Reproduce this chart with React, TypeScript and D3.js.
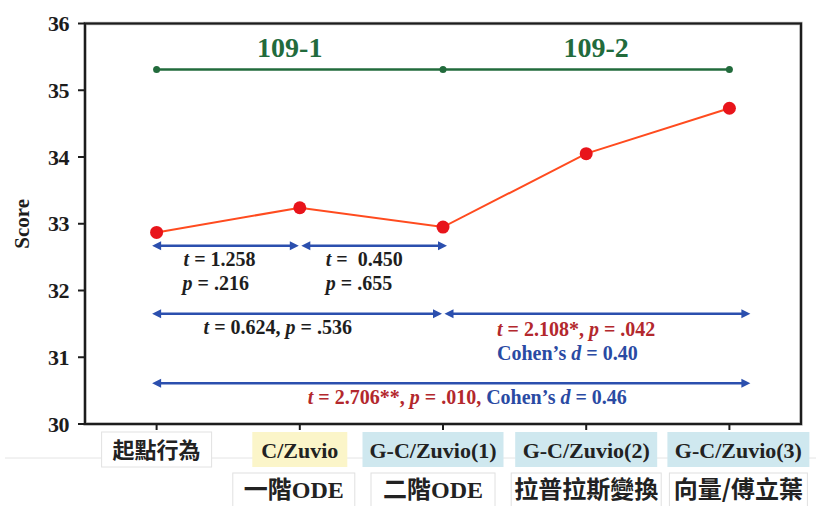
import React from "react";
import * as d3 from "d3";

const categories = ["起點行為", "C/Zuvio", "G-C/Zuvio(1)", "G-C/Zuvio(2)", "G-C/Zuvio(3)"];
const scores = [32.87, 33.24, 32.95, 34.05, 34.73];
const topics = ["", "一階ODE", "二階ODE", "拉普拉斯變換", "向量/傅立葉"];
const yTicks = [30, 31, 32, 33, 34, 35, 36];
const semesters = ["109-1", "109-2"];
const semesterBreaks = [0, 2, 4];
const semesterLevel = 35.31;

// comparison arrows: from index, to index, score level
const arrowFrom = [0, 1, 0, 2, 0];
const arrowTo = [1, 2, 2, 4, 4];
const arrowLevel = [32.67, 32.67, 31.65, 31.65, 30.61];

const W = 816, H = 506;
const M = { left: 85, right: 801, top: 23.5, bottom: 424 };

const serif = "'Liberation Serif', 'Times New Roman', serif";
const cjk = "'Noto Sans CJK TC', 'Noto Sans CJK SC', sans-serif";
const BLUE = "#2b4fae";
const DRED = "#b3282d";
const TBLUE = "#2a4aa3";
const GREEN = "#226b3c";

export default function App() {
  const x = d3.scalePoint<string>().domain(categories).range([M.left, M.right]).padding(0.5);
  const y = d3.scaleLinear().domain([30, 36]).range([M.bottom, M.top]);
  const xi = d3.scaleLinear().domain([0, 4]).range([x(categories[0])!, x(categories[4])!]);
  const line = d3.line<number>().x((_, i) => x(categories[i])!).y((d) => y(d));

  const arrowEnds = arrowFrom.map((f, k) => {
    const t = arrowTo[k];
    const left = f === 0 ? xi(f) - 4.5 : xi(f) + 1.5;
    const right = t === 4 ? xi(t) + 21 : (arrowFrom.some((ff, kk) => ff === t && arrowLevel[kk] === arrowLevel[k]) ? xi(t) - 1 : xi(t) + 4);
    return { left, right, yy: y(arrowLevel[k]) };
  });

  const head = (tipX: number, yy: number, dir: number) => {
    const L = 9, hw = 4.5;
    return `M${tipX},${yy} L${tipX - dir * L},${yy - hw} L${tipX - dir * L},${yy + hw} Z`;
  };

  const annoStyle = { fontFamily: serif, fontWeight: 700, fontSize: 20 } as const;
  const I = (s: string) => <tspan fontStyle="italic">{s}</tspan>;

  const boxRow1 = ["#ffffff", "#fbf5c9", "#cfe8ef", "#cfe8ef", "#cfe8ef"];
  const row1W = [110, 95, 141, 142, 142];
  const row1Off = [0, 0, -10, 0, 9];
  const row2W = [0, 122, 124, 150, 138];
  const row2Off = [0, -6, -10, 0, 9];

  return (
    <svg width={W} height={H} style={{ position: "absolute", left: 0, top: 0, background: "#fff" }}>
      <rect x={0} y={0} width={W} height={H} fill="#fff" />
      {/* faint separator */}
      <line x1={5} x2={W} y1={458} y2={458} stroke="#e4e4e4" strokeWidth={1} />

      {/* category label boxes row 1 */}
      {categories.map((c, i) => (
        <g key={c}>
          <rect
            x={x(c)! - row1W[i] / 2 + row1Off[i]}
            y={432}
            width={row1W[i]}
            height={35}
            fill={boxRow1[i]}
            stroke={i === 0 ? "#e2e2e2" : "none"}
          />
          <text
            x={x(c)! + row1Off[i]}
            y={458}
            textAnchor="middle"
            style={i === 0 ? { fontFamily: cjk, fontWeight: 700, fontSize: 22 } : { fontFamily: serif, fontWeight: 700, fontSize: 22 }}
            fill="#222"
          >
            {c}
          </text>
        </g>
      ))}
      {/* topic row 2 */}
      {topics.map((tp, i) =>
        tp ? (
          <g key={tp}>
            <rect x={x(categories[i])! - row2W[i] / 2 + row2Off[i]} y={473} width={row2W[i]} height={40} fill="#fff" stroke="#e0e0e0" />
            <text x={x(categories[i])! + row2Off[i]} y={498} textAnchor="middle" style={{ fontFamily: cjk, fontWeight: 700, fontSize: 24 }} fill="#222">
              {tp.includes("ODE") ? (
                <>
                  {tp.replace("ODE", "")}
                  <tspan style={{ fontFamily: serif, fontWeight: 700 }}>ODE</tspan>
                </>
              ) : (
                tp
              )}
            </text>
          </g>
        ) : null
      )}

      {/* frame */}
      <rect x={M.left} y={M.top} width={M.right - M.left} height={M.bottom - M.top} fill="none" stroke="#777" strokeWidth={3.5} opacity={0.45} />
      <rect x={M.left} y={M.top} width={M.right - M.left} height={M.bottom - M.top} fill="none" stroke="#1c1c1c" strokeWidth={2.2} />

      {/* y ticks */}
      {yTicks.map((t) => (
        <g key={t}>
          <line x1={M.left - 7} x2={M.left} y1={y(t)} y2={y(t)} stroke="#1c1c1c" strokeWidth={2} />
          <text x={69} y={y(t)} dy="0.35em" textAnchor="end" style={{ fontFamily: serif, fontWeight: 700, fontSize: 22, letterSpacing: -0.5 }} fill="#1c1c1c">
            {t}
          </text>
        </g>
      ))}
      <text
        transform={`translate(22,${y(33)}) rotate(-90)`}
        textAnchor="middle"
        dy="0.35em"
        style={{ fontFamily: serif, fontWeight: 700, fontSize: 21 }}
        fill="#1c1c1c"
      >
        Score
      </text>

      {/* x ticks */}
      {categories.map((c) => (
        <line key={c} x1={x(c)} x2={x(c)} y1={M.bottom} y2={M.bottom + 6} stroke="#1c1c1c" strokeWidth={2} />
      ))}

      {/* semester line */}
      <line x1={xi(semesterBreaks[0])} x2={xi(semesterBreaks[2])} y1={y(semesterLevel)} y2={y(semesterLevel)} stroke={GREEN} strokeWidth={2.5} />
      {semesterBreaks.map((b) => (
        <circle key={b} cx={xi(b)} cy={y(semesterLevel)} r={3.5} fill={GREEN} />
      ))}
      {semesters.map((s, i) => (
        <text
          key={s}
          x={xi(i === 0 ? 0.93 : 3.07)}
          y={57}
          textAnchor="middle"
          style={{ fontFamily: serif, fontWeight: 700, fontSize: 28 }}
          fill={GREEN}
        >
          {s}
        </text>
      ))}

      {/* score line */}
      <path d={line(scores) || ""} fill="none" stroke="#ff4b1f" strokeWidth={2} />
      {scores.map((s, i) => (
        <circle key={i} cx={x(categories[i])} cy={y(s)} r={6.5} fill="#e8141b" />
      ))}

      {/* arrows */}
      {arrowEnds.map((a, k) => (
        <g key={k}>
          <line x1={a.left + 6} x2={a.right - 6} y1={a.yy} y2={a.yy} stroke={BLUE} strokeWidth={2.5} />
          <path d={head(a.left, a.yy, -1)} fill={BLUE} />
          <path d={head(a.right, a.yy, 1)} fill={BLUE} />
        </g>
      ))}

      {/* annotations */}
      <g style={annoStyle} fill="#1e1e1e">
        <text x={xi(0) + 27} y={266}>{I("t")} = 1.258</text>
        <text x={xi(0) + 26} y={290}>{I("p")} = .216</text>
        <text x={xi(1) + 26} y={266} style={{ whiteSpace: "pre" }}>{I("t")} =  0.450</text>
        <text x={xi(1) + 26} y={290}>{I("p")} = .655</text>
        <text x={xi(0) + 47} y={334}>{I("t")} = 0.624, {I("p")} = .536</text>
        <text x={xi(2) + 54} y={336} fill={DRED}>{I("t")} = 2.108*, {I("p")} = .042</text>
        <text x={xi(2) + 54} y={360} fill={TBLUE}>Cohen’s {I("d")} = 0.40</text>
        <text x={xi(1) + 8} y={404}>
          <tspan fill={DRED}>{I("t")} = 2.706**, {I("p")} = .010, </tspan>
          <tspan fill={TBLUE}>Cohen’s {I("d")} = 0.46</tspan>
        </text>
      </g>
    </svg>
  );
}
